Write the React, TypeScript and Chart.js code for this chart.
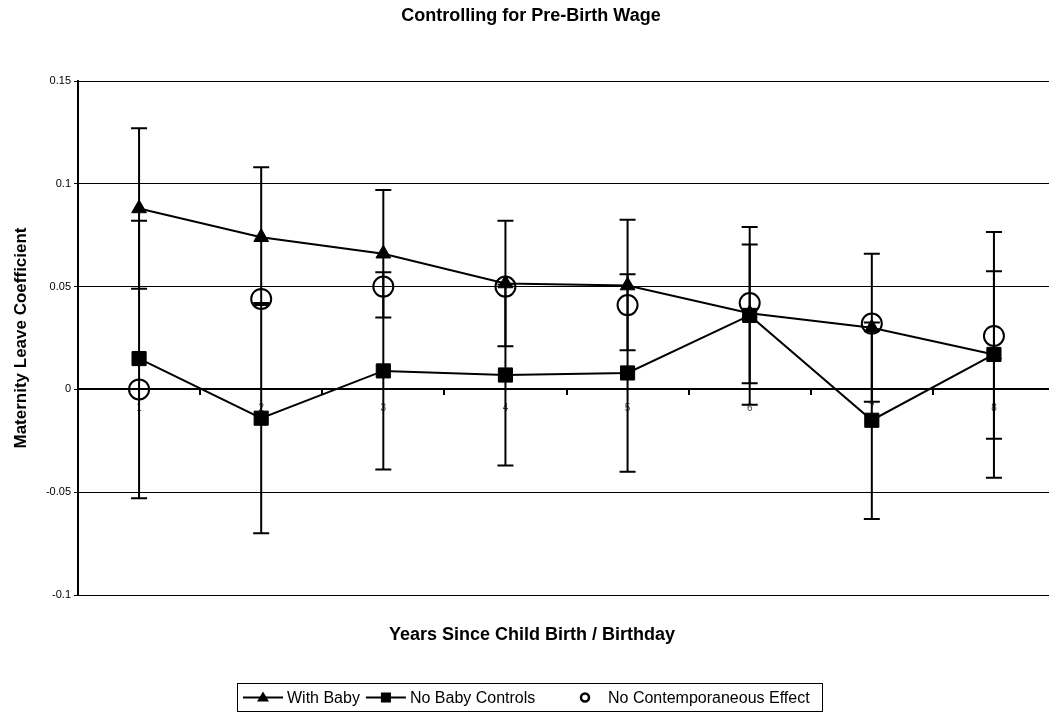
import { useEffect, useRef } from "react";
import { Chart, registerables } from "chart.js";

Chart.register(...registerables);

const categories = ["1", "2", "3", "4", "5", "6", "7", "8"];
const withBaby = [0.088, 0.074, 0.066, 0.0515, 0.0505, 0.037, 0.03, 0.017];
const withBabyLow = [0.049, 0.041, 0.035, 0.021, 0.019, 0.003, -0.006, -0.024];
const withBabyHigh = [0.127, 0.108, 0.097, 0.082, 0.0825, 0.0705, 0.066, 0.0575];
const noBaby = [0.015, -0.014, 0.009, 0.007, 0.008, 0.036, -0.015, 0.017];
const noBabyLow = [-0.053, -0.07, -0.039, -0.037, -0.04, -0.0075, -0.063, -0.043];
const noBabyHigh = [0.082, 0.042, 0.057, 0.051, 0.056, 0.079, 0.0325, 0.0765];
const noEffect = [0, 0.044, 0.05, 0.05, 0.041, 0.042, 0.032, 0.026];
const yTicks = [-0.1, -0.05, 0, 0.05, 0.1, 0.15];
const seriesLabels = ["With Baby", "No Baby Controls", "No Contemporaneous Effect"];
const chartTitle = "Controlling for Pre-Birth Wage";
const xTitle = "Years Since Child Birth / Birthday";
const yTitle = "Maternity Leave Coefficient";

const FONT = "Arial, 'Liberation Sans', sans-serif";

const errorBarPlugin = {
  id: "errorBars",
  beforeDatasetsDraw(chart: any) {
    const ctx = chart.ctx;
    const xs = chart.scales.x;
    const ys = chart.scales.y;
    const sets = [
      [withBabyLow, withBabyHigh],
      [noBabyLow, noBabyHigh],
    ];
    ctx.save();
    ctx.strokeStyle = "#000";
    ctx.lineWidth = 2;
    sets.forEach(([lo, hi]) => {
      lo.forEach((l, i) => {
        const x = xs.getPixelForValue(i);
        const y1 = ys.getPixelForValue(l);
        const y2 = ys.getPixelForValue(hi[i]);
        ctx.beginPath();
        ctx.moveTo(x, y1);
        ctx.lineTo(x, y2);
        ctx.moveTo(x - 8, y1);
        ctx.lineTo(x + 8, y1);
        ctx.moveTo(x - 8, y2);
        ctx.lineTo(x + 8, y2);
        ctx.stroke();
      });
    });
    ctx.restore();
  },
};

const textPlugin = {
  id: "texts",
  afterDraw(chart: any) {
    const ctx = chart.ctx;
    const ca = chart.chartArea;
    ctx.save();
    ctx.fillStyle = "#000";
    ctx.textAlign = "center";
    ctx.textBaseline = "alphabetic";
    ctx.font = `bold 18px ${FONT}`;
    ctx.fillText(chartTitle, 531, 21);
    ctx.fillText(xTitle, 532, 640);
    ctx.save();
    ctx.font = `bold 17px ${FONT}`;
    ctx.translate(26, (ca.top + ca.bottom) / 2);
    ctx.rotate(-Math.PI / 2);
    ctx.fillText(yTitle, 0, 0);
    ctx.restore();

    // legend
    ctx.font = `16px ${FONT}`;
    const left = 237.5;
    const right = 822.5;
    const top = 683.5;
    const h = 28;
    ctx.lineWidth = 1;
    ctx.strokeStyle = "#000";
    ctx.strokeRect(left, top, right - left, h);
    const cy = top + h / 2;
    ctx.lineWidth = 2;
    ctx.textAlign = "left";
    ctx.textBaseline = "middle";
    // item 1
    const k1 = 243;
    ctx.beginPath();
    ctx.moveTo(k1, cy);
    ctx.lineTo(k1 + 40, cy);
    ctx.stroke();
    ctx.beginPath();
    ctx.moveTo(k1 + 20, cy - 6);
    ctx.lineTo(k1 + 26, cy + 4);
    ctx.lineTo(k1 + 14, cy + 4);
    ctx.closePath();
    ctx.fill();
    const t1 = k1 + 44;
    ctx.fillText(seriesLabels[0], t1, cy + 1);
    // item 2
    const k2 = t1 + ctx.measureText(seriesLabels[0]).width + 6;
    ctx.beginPath();
    ctx.moveTo(k2, cy);
    ctx.lineTo(k2 + 40, cy);
    ctx.stroke();
    ctx.fillRect(k2 + 15, cy - 5, 10, 10);
    ctx.fillText(seriesLabels[1], k2 + 44, cy + 1);
    // item 3
    ctx.beginPath();
    ctx.lineWidth = 2.5;
    ctx.arc(585, cy, 4, 0, Math.PI * 2);
    ctx.stroke();
    ctx.fillText(seriesLabels[2], 608, cy + 1);
    ctx.restore();
  },
};

export default function App() {
  const ref = useRef<HTMLCanvasElement | null>(null);
  useEffect(() => {
    if (!ref.current) return;
    const chart = new Chart(ref.current, {
      type: "line",
      data: {
        labels: categories,
        datasets: [
          {
            label: seriesLabels[0],
            data: withBaby,
            borderColor: "#000",
            backgroundColor: "#000",
            borderWidth: 2,
            pointStyle: "triangle",
            pointRadius: 8.5,
            pointBackgroundColor: "#000",
            pointBorderColor: "#000",
            pointBorderWidth: 1,
            tension: 0,
          },
          {
            label: seriesLabels[1],
            data: noBaby,
            borderColor: "#000",
            backgroundColor: "#000",
            borderWidth: 2,
            pointStyle: "rect",
            pointRadius: 10,
            pointBackgroundColor: "#000",
            pointBorderColor: "#000",
            pointBorderWidth: 1,
            tension: 0,
          },
          {
            label: seriesLabels[2],
            data: noEffect,
            showLine: false,
            borderColor: "#000",
            pointStyle: "circle",
            pointRadius: 10,
            pointBackgroundColor: "rgba(0,0,0,0)",
            pointBorderColor: "#000",
            pointBorderWidth: 2,
          },
        ],
      },
      options: {
        responsive: false,
        animation: false,
        devicePixelRatio: 1,
        layout: { padding: { top: 81, bottom: 122, left: 0, right: 0 } },
        plugins: {
          legend: { display: false },
          title: { display: false },
          tooltip: { enabled: false },
        },
        scales: {
          x: {
            type: "category",
            position: { y: 0 } as any,
            offset: true,
            grid: {
              offset: true,
              drawOnChartArea: false,
              drawTicks: true,
              tickLength: 5,
              color: "#000",
              lineWidth: 2,
            },
            border: { display: true, color: "#000", width: 2 },
            ticks: {
              font: { family: FONT, size: 10 },
              color: "#444",
              padding: 8,
              maxRotation: 0,
              autoSkip: false,
            },
          },
          y: {
            min: -0.1,
            max: 0.15,
            afterBuildTicks: (s: any) => {
              s.ticks = yTicks.map((v) => ({ value: v }));
            },
            afterFit: (s: any) => {
              s.width = 78;
            },
            grid: { color: "#000", lineWidth: 1, drawTicks: true, tickLength: 4 },
            border: { display: true, color: "#000", width: 2 },
            ticks: {
              font: { family: FONT, size: 11 },
              color: "#000",
              padding: 3,
              callback: (v: any) => String(v),
            },
          },
        },
      },
      plugins: [errorBarPlugin, textPlugin],
    });
    return () => chart.destroy();
  }, []);
  return (
    <div
      style={{
        position: "fixed",
        left: 0,
        top: 0,
        width: 1049,
        height: 717,
        overflow: "hidden",
        background: "#fff",
      }}
    >
      <canvas ref={ref} width={1067} height={717} style={{ display: "block" }} />
    </div>
  );
}
